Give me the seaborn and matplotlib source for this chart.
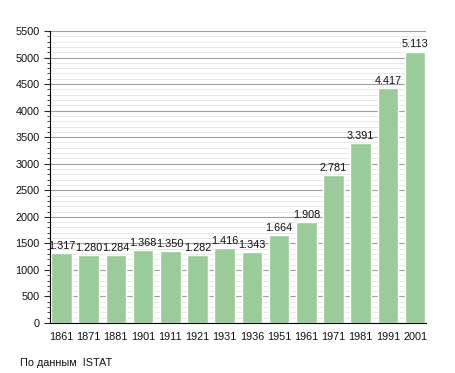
import matplotlib
matplotlib.use('Agg')
import matplotlib.pyplot as plt
import seaborn as sns
import pandas as pd
from matplotlib.ticker import MultipleLocator

years = ['1861', '1871', '1881', '1901', '1911', '1921', '1931', '1936',
         '1951', '1961', '1971', '1981', '1991', '2001']
population = [1317, 1280, 1284, 1368, 1350, 1282, 1416, 1343,
              1664, 1908, 2781, 3391, 4417, 5113]
labels = ['1.317', '1.280', '1.284', '1.368', '1.350', '1.282', '1.416', '1.343',
          '1.664', '1.908', '2.781', '3.391', '4.417', '5.113']

df = pd.DataFrame({'year': years, 'pop': population})

sns.set_style('white')
plt.rcParams['font.family'] = ['Liberation Sans', 'DejaVu Sans']

fig = plt.figure(figsize=(4.55, 3.73), dpi=100)
ax = fig.add_axes([50 / 455, 50 / 373, 376 / 455, 292 / 373])

ax.set_axisbelow(True)
ax.yaxis.set_major_locator(MultipleLocator(500))
ax.yaxis.set_minor_locator(MultipleLocator(100))
ax.grid(which='major', axis='y', color='#a0a0a0', linewidth=0.8)
ax.grid(which='minor', axis='y', color='#e4e4e4', linewidth=0.6)

sns.barplot(data=df, x='year', y='pop', color='#99cc99', saturation=1,
            width=0.76, ax=ax)

fs = 7.8
for i, (v, t) in enumerate(zip(population, labels)):
    ax.text(i, v + 40, t, ha='center', va='bottom', fontsize=fs, color='#111111')

ax.set_ylim(0, 5500)
ax.set_xlim(-0.42, len(years) - 0.6)
ax.set_xlabel('')
ax.set_ylabel('')
for s in ['top', 'right']:
    ax.spines[s].set_visible(False)
ax.spines['left'].set_color('black')
ax.spines['bottom'].set_color('black')
ax.tick_params(axis='y', which='major', left=True, length=4, width=0.8,
               labelsize=fs, labelcolor='#111111')
ax.tick_params(axis='y', which='minor', left=True, length=2, width=0.6)
ax.tick_params(axis='x', bottom=False, labelsize=fs, pad=3, labelcolor='#111111')

fig.text(20 / 455, 0.02, 'По данным  ISTAT', fontsize=fs, color='#111111')

fig.savefig('out.png', dpi=100)
